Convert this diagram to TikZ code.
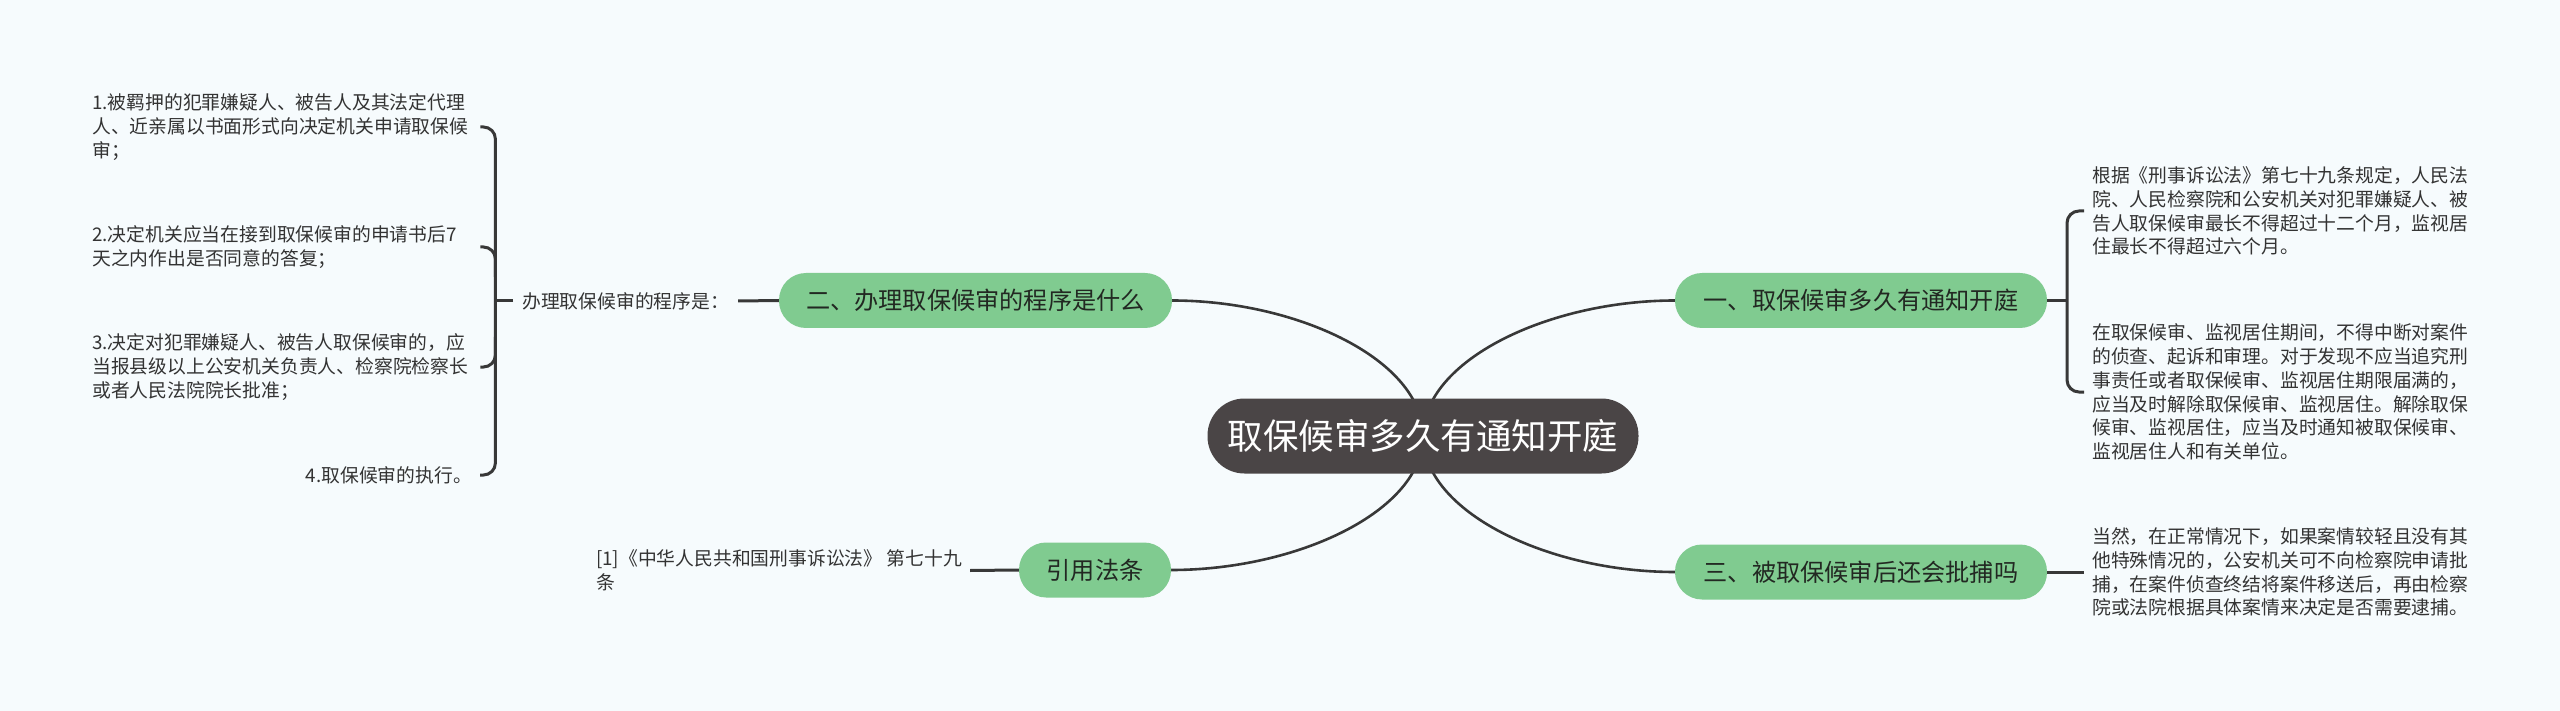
\documentclass[tikz,border=0pt]{standalone}
\usepackage{fontspec}
\setmainfont{Noto Sans CJK SC}
\usetikzlibrary{calc,backgrounds}
\definecolor{bgc}{HTML}{F6FBFD}
\definecolor{rootfill}{HTML}{4A4546}
\definecolor{topicgreen}{HTML}{80CB90}
\definecolor{topictext}{HTML}{222822}
\definecolor{linec}{HTML}{383838}
\definecolor{txt}{HTML}{333333}
\begin{document}
\begin{tikzpicture}[x=1pt,y=-1pt,
  rootbox/.style={fill=rootfill, text=white, rounded corners=37pt, minimum width=431pt, minimum height=75pt, font=\fontsize{35.5}{40}\selectfont, inner sep=0pt},
  topic/.style={fill=topicgreen, text=topictext, rounded corners=27pt, minimum height=55pt, font=\fontsize{24.2}{28}\selectfont, inner sep=0pt},
  leaf/.style={text=txt, font=\fontsize{18.8}{23.8}\selectfont, inner xsep=8pt, inner ysep=0pt, align=left},
  leafw/.style={leaf, text width=380pt},
  conn/.style={draw=linec, line width=3pt},
  rootconn/.style={draw=linec, line width=2.6pt},
]
\useasboundingbox (0,0) rectangle (2560,711);

% central and main topics
\node[rootbox] (root) at (1423,436) {取保候审多久有通知开庭};
\node[topic, minimum width=372pt] (n1) at (1861,300.5) {一、取保候审多久有通知开庭};
\node[topic, minimum width=393pt] (n2) at (975.5,300.5) {二、办理取保候审的程序是什么};
\node[topic, minimum width=372pt] (n3) at (1861,572) {三、被取保候审后还会批捕吗};
\node[topic, minimum width=152pt] (n4) at (1095,570) {引用法条};

% left side leaves
\node[leafw, anchor=west] (i1) at (84,127) {1.被羁押的犯罪嫌疑人、被告人及其法定代理\\人、近亲属以书面形式向决定机关申请取保候\\审；};
\node[leafw, anchor=west] (i2) at (84,247) {2.决定机关应当在接到取保候审的申请书后7\\天之内作出是否同意的答复；};
\node[leafw, anchor=west] (i3) at (84,367) {3.决定对犯罪嫌疑人、被告人取保候审的，应\\当报县级以上公安机关负责人、检察院检察长\\或者人民法院院长批准；};
\node[leaf, anchor=east] (i4) at (480,475) {4.取保候审的执行。};
\node[leaf, anchor=west, inner xsep=9pt] (lab) at (513,301) {办理取保候审的程序是：};
\node[leaf, anchor=west] (rt) at (588,570.5) {[1]《中华人民共和国刑事诉讼法》 第七十九\\条};

% right side leaves
\node[leafw, anchor=west] (r1) at (2084,211) {根据《刑事诉讼法》第七十九条规定，人民法\\院、人民检察院和公安机关对犯罪嫌疑人、被\\告人取保候审最长不得超过十二个月，监视居\\住最长不得超过六个月。};
\node[leafw, anchor=west] (r2) at (2084,392) {在取保候审、监视居住期间，不得中断对案件\\的侦查、起诉和审理。对于发现不应当追究刑\\事责任或者取保候审、监视居住期限届满的，\\应当及时解除取保候审、监视居住。解除取保\\候审、监视居住，应当及时通知被取保候审、\\监视居住人和有关单位。};
\node[leafw, anchor=west] (r3) at (2084,572) {当然，在正常情况下，如果案情较轻且没有其\\他特殊情况的，公安机关可不向检察院申请批\\捕，在案件侦查终结将案件移送后，再由检察\\院或法院根据具体案情来决定是否需要逮捕。};

\coordinate (lb) at ($(i1.east)+(15,0)$);
\coordinate (rb) at ($(r1.west)+(-17,0)$);

\begin{scope}[on background layer]
  \fill[bgc] (0,0) rectangle (2560,711);
  % root connectors
  \draw[rootconn] (root.center) .. controls ($(root.center)!0.56!(root.center |- n1.west)$) and ($(n1.west)!0.5!(root.center |- n1.west)$) .. (n1.west);
  \draw[rootconn] (root.center) .. controls ($(root.center)!0.56!(root.center |- n2.east)$) and ($(n2.east)!0.5!(root.center |- n2.east)$) .. (n2.east);
  \draw[rootconn] (root.center) .. controls ($(root.center)!0.56!(root.center |- n3.west)$) and ($(n3.west)!0.5!(root.center |- n3.west)$) .. (n3.west);
  \draw[rootconn] (root.center) .. controls ($(root.center)!0.56!(root.center |- n4.east)$) and ($(n4.east)!0.5!(root.center |- n4.east)$) .. (n4.east);
\end{scope}

% left bracket
\draw[conn, rounded corners=12pt] (i1.east) -| (lb |- i4.east) -- (i4.east);
\draw[conn, rounded corners=12pt] (i2.east) -| ($(lb |- i2.east)+(0,30)$);
\draw[conn, rounded corners=12pt] (i3.east) -| ($(lb |- i3.east)+(0,-30)$);
\draw[conn] (lab.west) -- (lab.west -| lb);
\draw[conn] (lab.east) -- (n2.west);
\draw[conn] (n4.west) -- (rt.east);

% right bracket
\draw[conn, rounded corners=12pt] (r1.west) -| (rb |- r2.west) -- (r2.west);
\draw[conn] (n1.east) -- (n1.east -| rb);
\draw[conn] (n3.east) -- (r3.west);
\end{tikzpicture}
\end{document}
